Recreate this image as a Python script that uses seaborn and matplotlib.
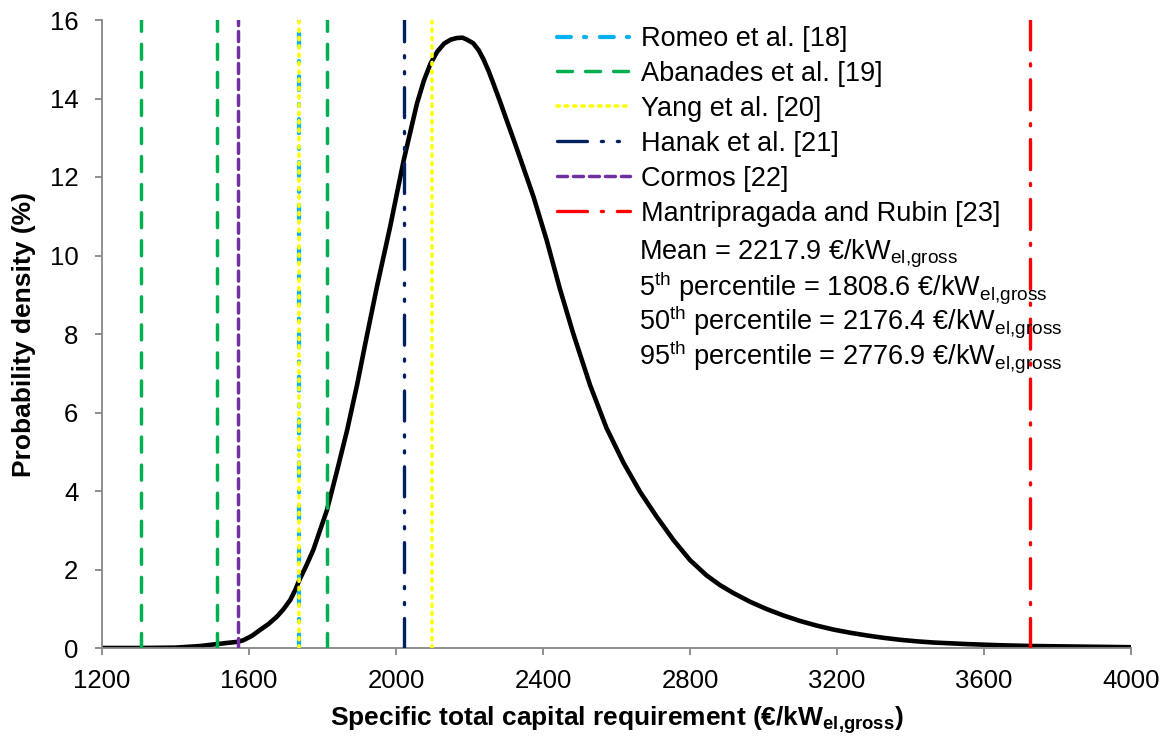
import matplotlib
matplotlib.use("Agg")
import numpy as np
import pandas as pd
import seaborn as sns
import matplotlib.pyplot as plt

# probability density of the specific total capital requirement
cost = [1200, 1300, 1400, 1467, 1512, 1571, 1585, 1608, 1630, 1653, 1676, 1694,
        1712, 1726, 1737, 1756, 1775, 1812, 1840, 1867, 1894, 1917, 1948, 1984,
        2021, 2040, 2057, 2076, 2094, 2112, 2131, 2149, 2165, 2181, 2193, 2210,
        2225, 2238, 2252, 2265, 2284, 2301, 2319, 2337, 2374, 2410, 2446, 2482,
        2528, 2573, 2619, 2664, 2709, 2755, 2800, 2845, 2882, 2918, 2963, 3009,
        3054, 3099, 3145, 3190, 3235, 3281, 3326, 3371, 3417, 3462, 3553, 3643,
        3734, 4000]
density = [0.0, 0.0, 0.01, 0.05, 0.10, 0.16, 0.20, 0.31, 0.46, 0.61, 0.80, 0.99,
           1.22, 1.48, 1.73, 2.10, 2.50, 3.51, 4.53, 5.55, 6.70, 7.78, 9.20, 10.73,
           12.43, 13.19, 13.87, 14.46, 14.89, 15.19, 15.40, 15.50, 15.54, 15.55, 15.50, 15.41,
           15.23, 15.00, 14.70, 14.38, 13.90, 13.45, 12.98, 12.50, 11.50, 10.39, 9.15, 8.02,
           6.70, 5.60, 4.72, 3.98, 3.35, 2.75, 2.24, 1.85, 1.60, 1.40, 1.18, 0.99,
           0.83, 0.69, 0.57, 0.47, 0.39, 0.32, 0.26, 0.21, 0.17, 0.14, 0.10, 0.07,
           0.05, 0.02]

# literature values (€/kW el,gross)
romeo_x = [1737]
abanades_x = [1305, 1512, 1812]
yang_x = [1737, 2097]
hanak_x = [2023]
cormos_x = [1571]
mantri_x = [3725]

sub = r"$_{\mathrm{el{,}gross}}$"
stats_lines = [
    "Mean = 2217.9 €/kW" + sub,
    r"5$^{\mathrm{th}}$ percentile = 1808.6 €/kW" + sub,
    r"50$^{\mathrm{th}}$ percentile = 2176.4 €/kW" + sub,
    r"95$^{\mathrm{th}}$ percentile = 2776.9 €/kW" + sub,
]
stats_baseline = [259, 295, 330, 365]

sns.set_theme(style="white")
plt.rcParams["font.family"] = ["Liberation Sans", "DejaVu Sans"]
plt.rcParams["mathtext.fontset"] = "custom"
plt.rcParams["mathtext.rm"] = "Liberation Sans"
plt.rcParams["mathtext.it"] = "Liberation Sans:italic"
plt.rcParams["mathtext.bf"] = "Liberation Sans:bold"
plt.rcParams["lines.scale_dashes"] = False
for key in ["text.color", "axes.labelcolor", "xtick.color", "ytick.color"]:
    plt.rcParams[key] = "black"

fig = plt.figure(figsize=(11.69, 7.40), dpi=100)
ax = fig.add_axes([102 / 1169, 1 - 648 / 740, (1131 - 102) / 1169, (648 - 20) / 740])

df = pd.DataFrame({"cost": cost, "density": density})
sns.lineplot(data=df, x="cost", y="density", color="black", linewidth=3.3,
             ax=ax, zorder=2, legend=False, solid_joinstyle="round")

# label, positions, colour, dash pattern (pt), width
refs = [
    ("Romeo et al. [18]", romeo_x, "#00B0F0", (0, (10, 9.4, 1.5, 10)), 3.0),
    ("Abanades et al. [19]", abanades_x, "#00B050", (0, (10.8, 9.4)), 2.5),
    ("Yang et al. [20]", yang_x, "#FFFF00", (0, (1.6, 4.4)), 2.6),
    ("Hanak et al. [21]", hanak_x, "#002060", (0, (21.6, 10, 1.5, 10, 1.5, 10)), 2.4),
    ("Cormos [22]", cormos_x, "#7030A0", (0, (7.2, 4.3)), 2.5),
    ("Mantripragada and Rubin [23]", mantri_x, "#FF0000", (0, (21.6, 10, 1.5, 10)), 2.4),
]
handles = []
for label, xs, col, ls, lw in refs:
    for i, xv in enumerate(xs):
        h = ax.axvline(xv, color=col, linestyle=ls, linewidth=lw, zorder=3,
                       dash_capstyle="round", label=label if i == 0 else None)
        if i == 0:
            handles.append(h)

ax.set_xlim(1200, 4000)
ax.set_ylim(0, 16)
ax.set_xticks(range(1200, 4001, 400))
ax.set_yticks(range(0, 17, 2))
ax.tick_params(axis="both", labelsize=18.5, length=5, width=1.3, color="#868686",
               labelcolor="black", direction="out", bottom=True, left=True)
ax.tick_params(axis="x", pad=10)
ax.tick_params(axis="y", pad=12)
for side in ["top", "right"]:
    ax.spines[side].set_visible(False)
for side in ["left", "bottom"]:
    ax.spines[side].set_color("#868686")
    ax.spines[side].set_linewidth(1.3)

ax.set_xlabel(r"Specific total capital requirement (€/kW$_{\mathbf{el{,}gross}}$)",
              fontsize=19, fontweight="bold")
ax.set_ylabel("Probability density (%)", fontsize=19, fontweight="bold")
ax.xaxis.set_label_coords(0.5, (648 - 704) / 628)
ax.yaxis.set_label_coords((36 - 102) / 1029, 0.5)

fig.legend(handles=handles, loc="upper left", bbox_to_anchor=(557 / 1169, 1 - 26 / 740),
           frameon=False, fontsize=19.5, handlelength=2.7, handletextpad=0.4,
           labelspacing=0.33, borderpad=0, borderaxespad=0)

for line, yb in zip(stats_lines, stats_baseline):
    fig.text(639 / 1169, 1 - yb / 740, line, fontsize=19.5, ha="left", va="baseline")

fig.savefig("out.png", dpi=100)
